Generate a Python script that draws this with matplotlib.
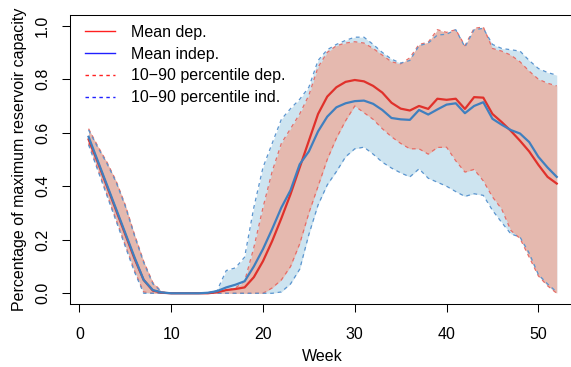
import matplotlib
matplotlib.use("Agg")
import matplotlib.pyplot as plt
from matplotlib.lines import Line2D
import numpy as np

weeks = np.arange(1, 53)

mean_dep = [0.575, 0.49, 0.40, 0.31, 0.22, 0.13, 0.05, 0.01, 0.002, 0.0,
            0.0, 0.0, 0.0, 0.0, 0.004, 0.012, 0.016, 0.022, 0.06, 0.12,
            0.195, 0.28, 0.37, 0.47, 0.57, 0.67, 0.735, 0.77, 0.79, 0.797,
            0.792, 0.775, 0.75, 0.712, 0.69, 0.683, 0.70, 0.689, 0.727, 0.723,
            0.727, 0.689, 0.733, 0.731, 0.67, 0.64, 0.607, 0.57, 0.53, 0.48,
            0.435, 0.41]
mean_ind = [0.585, 0.495, 0.405, 0.315, 0.225, 0.135, 0.05, 0.012, 0.003, 0.0,
            0.0, 0.0, 0.0, 0.002, 0.008, 0.022, 0.032, 0.045, 0.10, 0.165,
            0.24, 0.32, 0.385, 0.482, 0.53, 0.605, 0.66, 0.695, 0.71, 0.718,
            0.72, 0.708, 0.685, 0.655, 0.65, 0.648, 0.685, 0.668, 0.687, 0.705,
            0.71, 0.673, 0.70, 0.714, 0.652, 0.63, 0.61, 0.597, 0.565, 0.51,
            0.47, 0.435]
p90_dep = [0.615, 0.55, 0.49, 0.42, 0.33, 0.22, 0.12, 0.04, 0.005, 0.0,
           0.0, 0.0, 0.0, 0.0, 0.003, 0.01, 0.02, 0.045, 0.17, 0.32,
           0.455, 0.56, 0.615, 0.67, 0.74, 0.845, 0.90, 0.925, 0.935, 0.94,
           0.935, 0.915, 0.89, 0.865, 0.857, 0.88, 0.93, 0.938, 0.985, 0.975,
           0.985, 0.925, 0.99, 0.995, 0.915, 0.905, 0.89, 0.865, 0.83, 0.80,
           0.785, 0.775]
p90_ind = [0.61, 0.545, 0.485, 0.415, 0.325, 0.215, 0.115, 0.035, 0.004, 0.0,
           0.0, 0.0, 0.0, 0.002, 0.01, 0.085, 0.095, 0.135, 0.32, 0.47,
           0.56, 0.65, 0.69, 0.725, 0.77, 0.87, 0.91, 0.93, 0.945, 0.957,
           0.957, 0.93, 0.90, 0.875, 0.86, 0.87, 0.925, 0.935, 0.965, 0.968,
           0.985, 0.92, 0.985, 0.99, 0.93, 0.915, 0.91, 0.905, 0.87, 0.84,
           0.825, 0.815]
p10_dep = [0.56, 0.465, 0.37, 0.275, 0.18, 0.085, 0.005, 0.0, 0.0, 0.0,
           0.0, 0.0, 0.0, 0.0, 0.0, 0.0, 0.0, 0.0, 0.0, 0.0,
           0.02, 0.05, 0.10, 0.185, 0.30, 0.40, 0.50, 0.58, 0.645, 0.70,
           0.675, 0.65, 0.615, 0.585, 0.56, 0.54, 0.54, 0.52, 0.545, 0.546,
           0.495, 0.453, 0.463, 0.42, 0.36, 0.315, 0.235, 0.205, 0.135, 0.065,
           0.028, 0.0]
p10_ind = [0.555, 0.46, 0.365, 0.27, 0.175, 0.08, 0.0, 0.0, 0.0, 0.0,
           0.0, 0.0, 0.0, 0.0, 0.0, 0.0, 0.0, 0.0, 0.0, 0.0,
           0.0, 0.005, 0.035, 0.09, 0.22, 0.33, 0.405, 0.455, 0.51, 0.54,
           0.546, 0.52, 0.49, 0.468, 0.45, 0.435, 0.465, 0.43, 0.415, 0.40,
           0.38, 0.362, 0.372, 0.366, 0.31, 0.265, 0.222, 0.21, 0.15, 0.07,
           0.035, 0.005]

labels = ["Mean dep.", "Mean indep.",
          "10\u221290 percentile dep.", "10\u221290 percentile ind."]

plt.rcParams['font.family'] = ['Liberation Sans', 'DejaVu Sans']
fs = 11.5

fig = plt.figure(figsize=(5.71, 3.67), dpi=100)
ax = fig.add_axes([0.1223, 0.1717, 0.8855, 0.7875])

# bands
ax.fill_between(weeks, p10_ind, p90_ind, color='#cde4f0', lw=0)
ax.fill_between(weeks, p10_dep, p90_dep, color='#e5b9af', lw=0)
for y in (p10_dep, p90_dep):
    ax.plot(weeks, y, color='#e66e68', lw=0.9, dashes=(3, 3))
for y in (p10_ind, p90_ind):
    ax.plot(weeks, y, color='#5b95cf', lw=0.9, dashes=(3, 3))

# means
ax.plot(weeks, mean_dep, color='#e0312b', lw=1.6)
ax.plot(weeks, mean_ind, color='#3f7fbf', lw=1.6)

ax.set_xlim(-1.04, 54.04)
ax.set_ylim(-0.04, 1.04)
ax.set_xticks([0, 10, 20, 30, 40, 50])
ax.set_yticks([0.0, 0.2, 0.4, 0.6, 0.8, 1.0])
ax.set_yticklabels(["0.0", "0.2", "0.4", "0.6", "0.8", "1.0"])
ax.tick_params(axis='both', direction='out', length=5.8, width=0.75,
               labelsize=fs, colors='black')
ax.tick_params(axis='x', pad=10.5)
ax.tick_params(axis='y', pad=8.5, labelrotation=90)
for lab in ax.get_yticklabels():
    lab.set_va('center')
for sp in ax.spines.values():
    sp.set_linewidth(0.75)
    sp.set_color('black')

ax.set_xlabel("Week", fontsize=fs, labelpad=5)
ax.set_ylabel("Percentage of maximum reservoir capacity", fontsize=fs, labelpad=6)

handles = [Line2D([], [], color='#ff2020', lw=1.0),
           Line2D([], [], color='#2020ff', lw=1.0),
           Line2D([], [], color='#ff2020', lw=1.0, dashes=(2.5, 2.5)),
           Line2D([], [], color='#2020ff', lw=1.0, dashes=(2.5, 2.5))]
fig.legend(handles, labels, loc='upper left',
           bbox_to_anchor=(85 / 571, 1 - 25 / 367), frameon=False,
           fontsize=fs, handlelength=1.9, handletextpad=1.0,
           labelspacing=0.42, borderpad=0, borderaxespad=0)

fig.savefig("out.png", dpi=100)
